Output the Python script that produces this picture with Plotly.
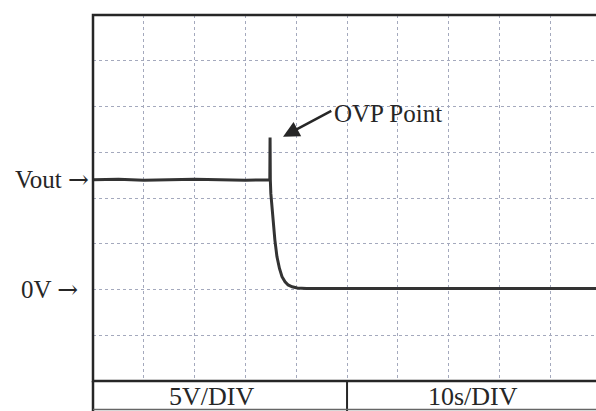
import plotly.graph_objects as go

# scope trace: time (s) and voltage (V)
time_s = [0, 5, 10, 15, 20, 25, 30, 34.8, 34.85, 34.9, 35.0, 35.4, 35.8, 36.2,
          36.7, 37.2, 37.8, 38.4, 39.2, 40.2, 42, 45, 50, 55, 60, 65, 70, 75,
          80, 85, 90, 95, 99]
volts = [12.0, 12.05, 11.95, 12.0, 12.05, 12.0, 11.95, 12.0, 16.6, 12.0, 10.5,
         7.6, 5.4, 3.6, 2.3, 1.4, 0.85, 0.5, 0.3, 0.16, 0.1, 0.12, 0.08, 0.1,
         0.12, 0.1, 0.08, 0.1, 0.12, 0.1, 0.1, 0.08, 0.1]

vout_level = 12.0
zero_level = 0.0
volt_per_div = 5
sec_per_div = 10
scale_labels = ["5V/DIV", "10s/DIV"]

FONT = "Liberation Serif, Times New Roman, serif"
INK = "#262626"
ARROW = "<span style='font-family:DejaVu Serif'>\u2192</span>"

fig = go.Figure()
fig.add_trace(go.Scatter(
    x=time_s, y=volts, mode="lines",
    line=dict(color="#333333", width=3),
    hoverinfo="skip", showlegend=False
))

grid = dict(showgrid=True, gridcolor="#a4a9bd", gridwidth=1, griddash="dot",
            zeroline=False, showticklabels=False, ticks="", showline=False)
fig.update_xaxes(range=[0, 99.0], dtick=sec_per_div, tick0=0, **grid)
fig.update_yaxes(range=[-10, 30], dtick=volt_per_div, tick0=0, **grid)

shapes = [
    # outer frame of the screen
    dict(type="rect", xref="paper", yref="paper", x0=0, x1=1.05, y0=0, y1=1,
         line=dict(color=INK, width=2.5)),
    # label row under the screen
    dict(type="line", xref="paper", yref="paper", x0=0, x1=0, y0=0, y1=-0.09,
         line=dict(color=INK, width=2.5)),
    dict(type="line", xref="x", yref="paper", x0=50, x1=50, y0=0, y1=-0.09,
         line=dict(color=INK, width=2)),
    dict(type="line", xref="paper", yref="paper", x0=0, x1=1.05, y0=-0.078, y1=-0.078,
         line=dict(color="#666666", width=1.5)),
]

annotations = [
    dict(xref="paper", yref="y", x=0, y=vout_level, xanchor="right", xshift=-2,
         text="Vout " + ARROW, showarrow=False, font=dict(family=FONT, size=25, color=INK)),
    dict(xref="paper", yref="y", x=0, y=zero_level, xanchor="right", xshift=-13,
         text="0V " + ARROW, showarrow=False, font=dict(family=FONT, size=25, color=INK)),
    dict(xref="x", yref="y", x=47.0, y=19.2, xanchor="left", yanchor="middle",
         text="OVP Point", showarrow=False, font=dict(family=FONT, size=25, color=INK)),
    dict(xref="x", yref="y", x=37.4, y=16.7, axref="x", ayref="y", ax=47.2, ay=19.6,
         text="", showarrow=True, arrowhead=2, arrowsize=1.3, arrowwidth=2.5,
         arrowcolor=INK, standoff=0),
    dict(xref="x", yref="paper", x=23.3, y=-0.041, yanchor="middle", text=scale_labels[0],
         showarrow=False, font=dict(family=FONT, size=26, color=INK)),
    dict(xref="x", yref="paper", x=74.8, y=-0.041, yanchor="middle", text=scale_labels[1],
         showarrow=False, font=dict(family=FONT, size=26, color=INK)),
]

fig.update_layout(
    width=596, height=411,
    margin=dict(l=93, r=0, t=15, b=30),
    plot_bgcolor="white", paper_bgcolor="white",
    shapes=shapes, annotations=annotations,
)

# drop the default page margin so the figure fills the window exactly
fig.write_html("out.html", config={"displayModeBar": False},
               post_script="document.body.style.margin='0px';")
